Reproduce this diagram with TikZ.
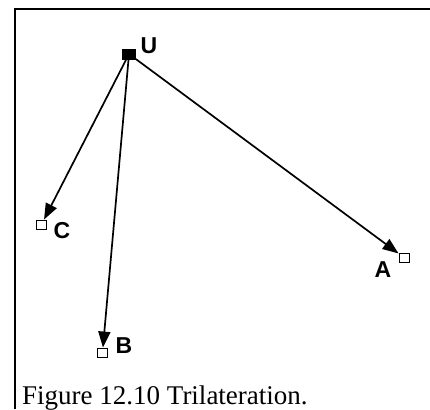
\documentclass[tikz,border=0pt]{standalone}
\usepackage{fontspec}
\setmainfont{Liberation Serif}
\setsansfont{Liberation Sans}
\usetikzlibrary{arrows.meta}

\begin{document}
\begin{tikzpicture}[x=1pt, y=-1pt,
  site/.style={draw, fill=white, line width=0.9pt, minimum width=10pt, minimum height=9pt, inner sep=0pt},
  lbl/.style={font=\sffamily\bfseries\fontsize{23}{23}\selectfont, inner sep=0pt},
  ray/.style={line width=1.7pt, -{Triangle[length=16pt, width=12pt]}}]
% Bounding box
\useasboundingbox (0,0) rectangle (430,409);

% Frame
\draw[line width=2.2pt] (15,409) -- (15,9) -- (430,9);

% Unknown position
\node[site, fill=black, minimum width=13pt, minimum height=10pt] (U) at (129,54) {};
\node[lbl] (Ulbl) at (149,46) {U};

% Reference sites
\node[site] (C) at (41.5,224.5) {};
\node[lbl] (Clbl) at (62,231) {C};
\node[site] (A) at (404,257.5) {};
\node[lbl] (Albl) at (383,270) {A};
\node[site] (B) at (102.5,352.5) {};
\node[lbl] (Blbl) at (124,346) {B};

% Ranges
\draw[ray] (U) -- (C);
\draw[ray] (U) -- (B);
\draw[ray] (U) -- (A);

% Caption
\node[anchor=base west, inner sep=0pt, font=\fontsize{27}{30}\selectfont] (cap) at (22,404) {Figure 12.10 Trilateration.};

\end{tikzpicture}
\end{document}
